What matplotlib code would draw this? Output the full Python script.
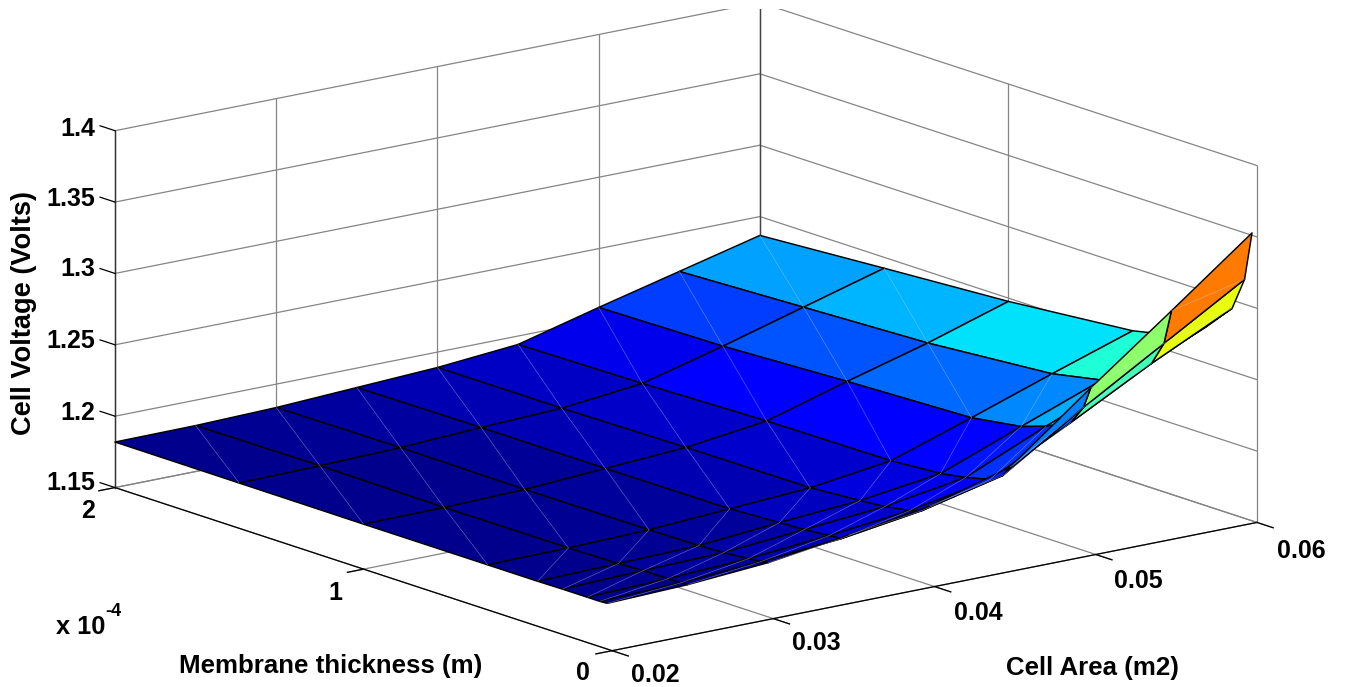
import numpy as np
import matplotlib
matplotlib.use('Agg')
import matplotlib.pyplot as plt
from matplotlib.patches import Rectangle
from mpl_toolkits.mplot3d import proj3d

plt.rcParams['font.family'] = ['Liberation Sans', 'DejaVu Sans']

W, H = 1345, 687

# values
area = np.array([0.02, 0.025, 0.03, 0.035, 0.04, 0.045, 0.05, 0.055, 0.06])
thick = np.array([0.02, 0.05, 0.1, 0.2, 0.3, 0.5, 1, 1.5, 2]) * 1e-4
volt = np.array([
    [1.1820, 1.1839, 1.1881, 1.1962, 1.2053, 1.2214, 1.2656, 1.3083, 1.3517],
    [1.1817, 1.1833, 1.1871, 1.1920, 1.2004, 1.2137, 1.2501, 1.2838, 1.3174],
    [1.1817, 1.1835, 1.1863, 1.1912, 1.1975, 1.2081, 1.2368, 1.2669, 1.2943],
    [1.1817, 1.1834, 1.1848, 1.1897, 1.1946, 1.2037, 1.2284, 1.2515, 1.2761],
    [1.1815, 1.1826, 1.1840, 1.1889, 1.1931, 1.2008, 1.2225, 1.2438, 1.2634],
    [1.1815, 1.1822, 1.1836, 1.1871, 1.1906, 1.1983, 1.2172, 1.2368, 1.2557],
    [1.1815, 1.1819, 1.1833, 1.1868, 1.1903, 1.1976, 1.2141, 1.2298, 1.2477],
    [1.1817, 1.1826, 1.1841, 1.1869, 1.1892, 1.1953, 1.2102, 1.2263, 1.2424],
    [1.1819, 1.1822, 1.1836, 1.1864, 1.1892, 1.1941, 1.2088, 1.2228, 1.2368],
])

area_ticks = [0.02, 0.03, 0.04, 0.05, 0.06]
thick_ticks = [0, 1e-4, 2e-4]
volt_ticks = [1.15, 1.2, 1.25, 1.3, 1.35, 1.4]

GRID = '#858585'

fig = plt.figure(figsize=(W / 100, H / 100), dpi=100)
ax = fig.add_axes([0, 0, 1, 1], projection='3d', computed_zorder=False)
ax.set_proj_type('ortho')
ax.set_box_aspect((817, 809, 369))
ax.view_init(elev=14.8, azim=-127.9)
ax.set_xlim(0.02, 0.06)
ax.set_ylim(0, 2e-4)
ax.set_zlim(1.15, 1.4)
ax.set_axis_off()


def to_px(a, t, v):
    x, y, _ = proj3d.proj_transform(a, t, v, ax.get_proj())
    ax.apply_aspect()
    return ax.transData.transform((x, y))


def place(side, cx, cy):
    ax.set_position([(cx - side / 2) / W, (cy - side / 2) / H, side / W, side / H])


# fit the box onto the floor corners of the reference (pixels from bottom)
target_l = np.array([115, H - 488])
target_r = np.array([1257, H - 522])
side, cx, cy = 1000.0, W / 2, H / 2
place(side, cx, cy)
for _ in range(3):
    p_l = to_px(0.02, 2e-4, 1.15)
    p_r = to_px(0.06, 0, 1.15)
    side *= (target_r[0] - target_l[0]) / (p_r[0] - p_l[0])
    place(side, cx, cy)
    p_l = to_px(0.02, 2e-4, 1.15)
    p_r = to_px(0.06, 0, 1.15)
    shift = (target_l + target_r - p_l - p_r) / 2
    cx, cy = cx + shift[0], cy + shift[1]
    place(side, cx, cy)

# floor and wall grid
for a in area_ticks:
    ax.plot([a, a], [-0.065e-4, 2e-4], [1.15, 1.15], color=GRID, lw=0.9, zorder=1)
    ax.plot([a, a], [2e-4, 2e-4], [1.15, 1.4], color=GRID, lw=0.9, zorder=1)
for t in thick_ticks:
    ax.plot([0.019, 0.06], [t, t], [1.15, 1.15], color=GRID, lw=0.9, zorder=1)
    ax.plot([0.06, 0.06], [t, t], [1.15, 1.4], color=GRID, lw=0.9, zorder=1)
for v in volt_ticks:
    ax.plot([0.02, 0.06], [2e-4, 2e-4], [v, v], color=GRID, lw=0.9, zorder=1)
    ax.plot([0.06, 0.06], [0, 2e-4], [v, v], color=GRID, lw=0.9, zorder=1)

# axis lines and ticks
ax.plot([0.02, 0.06], [0, 0], [1.15, 1.15], color='k', lw=0.9, zorder=2)
ax.plot([0.02, 0.02], [0, 2e-4], [1.15, 1.15], color='k', lw=0.9, zorder=2)
ax.plot([0.02, 0.02], [2e-4, 2e-4], [1.15, 1.4], color='#333333', lw=1.0, zorder=2)
ax.plot([0.06, 0.06], [2e-4, 2e-4], [1.15, 1.4], color='#444444', lw=0.9, zorder=2)
for a in area_ticks:
    ax.plot([a, a], [0, -0.065e-4], [1.15, 1.15], color='k', lw=0.9, zorder=2)
for t in thick_ticks:
    ax.plot([0.02, 0.019], [t, t], [1.15, 1.15], color='k', lw=0.9, zorder=2)
for v in volt_ticks:
    ax.plot([0.02, 0.02], [2e-4, 2.06e-4], [v, v], color='k', lw=0.9, zorder=2)

# surface, each cell coloured from its lowest-index corner
X, Y = np.meshgrid(area, thick)
norm = (volt - volt.min()) / (volt.max() - volt.min())
colors = plt.get_cmap('jet')(0.012 + 1.03 * norm)
surf = ax.plot_surface(X, Y, volt, facecolors=colors, rstride=1, cstride=1, shade=False,
                       edgecolor='k', linewidth=1.05, antialiased=True, zorder=3)

# faint seams across the cells
for i in range(len(thick) - 1):
    for j in range(len(area) - 1):
        if j == 7 and 2 <= i <= 5:
            continue
        if j == 6 and 2 <= i <= 3:
            continue
        ax.plot([area[j], area[j + 1]], [thick[i], thick[i + 1]],
                [volt[i, j], volt[i + 1, j + 1]], color='#c8d4ff', lw=0.35,
                alpha=0.6, zorder=4)

# the axes box is narrower than the plot, keep the edges
for line in ax.lines:
    line.set_clip_on(False)
surf.set_clip_on(False)


def label(x, y, s, ha='center', size=18, rotation=0):
    fig.text(x / W, 1 - (y + 1.5) / H, s, ha=ha, va='center', fontsize=size,
             fontweight='bold', rotation=rotation)


for v, y in zip(['1.15', '1.2', '1.25', '1.3', '1.35', '1.4'], [482, 411, 340, 268, 198, 127]):
    label(95, y, v, ha='right')
label(95, 509, '2', ha='right')
label(335, 591, '1')
label(583, 671, '0')
for s, x, y in zip(['0.02', '0.03', '0.04', '0.05', '0.06'],
                   [655, 816, 978, 1138, 1301], [674, 642, 611, 580, 549]):
    label(x, y, s)
label(56, 626, 'x 10', ha='left', size=18.3)
label(105, 610, '-4', ha='left', size=13)
label(331, 665, 'Membrane thickness (m)', size=18.6)
label(1092, 666, 'Cell Area (m2)', size=18.6)
label(24, 311, 'Cell Voltage (Volts)', size=19.6, rotation=90)

# the reference stops just short of the top of the box
fig.add_artist(Rectangle((0, 1 - 9 / H), 1, 9 / H, transform=fig.transFigure,
                         facecolor='white', edgecolor='none', zorder=5))

fig.savefig('out.png', dpi=100)
